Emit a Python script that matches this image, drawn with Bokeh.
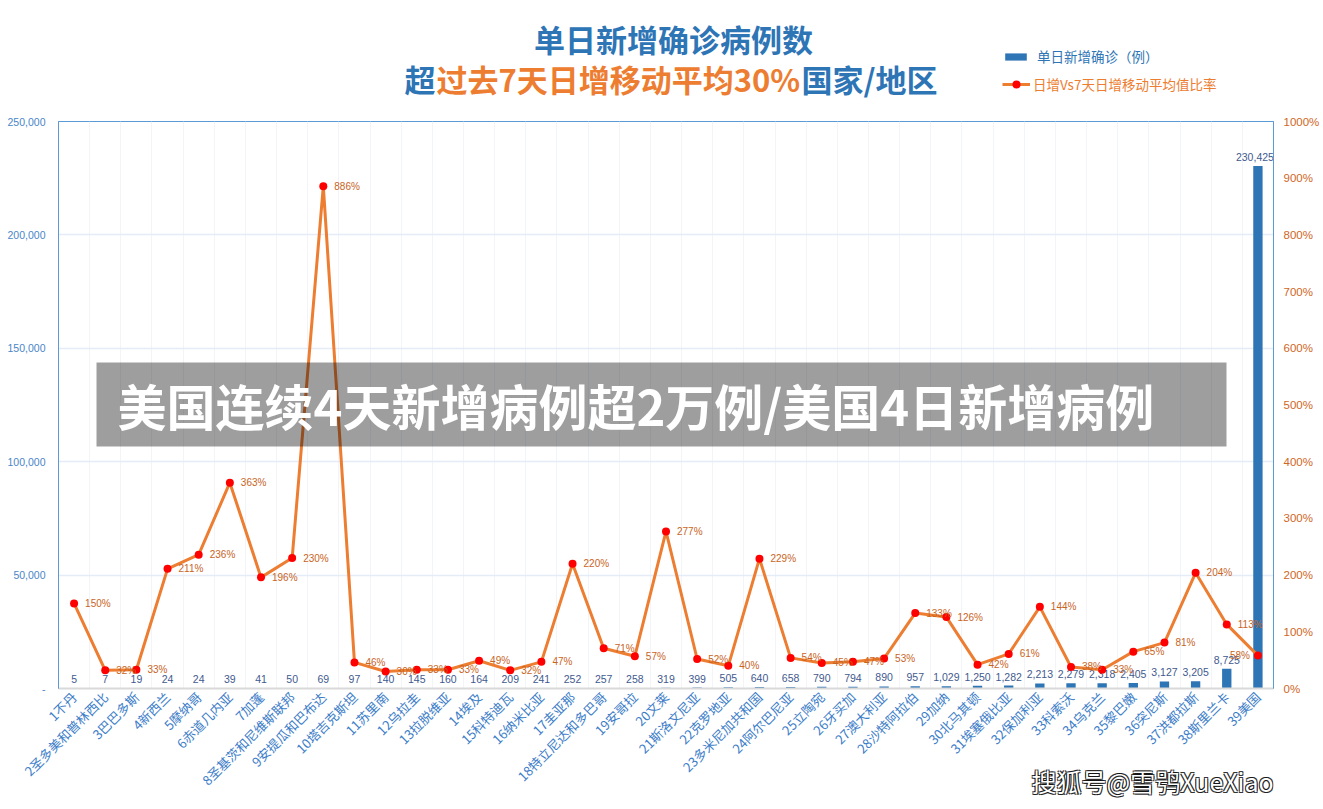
from bokeh.plotting import figure
from bokeh.layouts import column
from bokeh.models import (Range1d, LinearAxis, FixedTicker, PrintfTickFormatter,
                          NumeralTickFormatter, ColumnDataSource, Label, BoxAnnotation,
                          Legend, LegendItem)
from bokeh.core.properties import value
from bokeh.embed import file_html
from bokeh.resources import INLINE
from math import pi

countries = ["1不丹", "2圣多美和普林西比", "3巴巴多斯", "4新西兰", "5摩纳哥", "6赤道几内亚",
             "7加蓬", "8圣基茨和尼维斯联邦", "9安提瓜和巴布达", "10塔吉克斯坦", "11苏里南",
             "12乌拉圭", "13拉脱维亚", "14埃及", "15科特迪瓦", "16纳米比亚", "17圭亚那",
             "18特立尼达和多巴哥", "19安哥拉", "20文莱", "21斯洛文尼亚", "22克罗地亚",
             "23多米尼加共和国", "24阿尔巴尼亚", "25立陶宛", "26牙买加", "27澳大利亚",
             "28沙特阿拉伯", "29加纳", "30北马其顿", "31埃塞俄比亚", "32保加利亚", "33科索沃",
             "34乌克兰", "35黎巴嫩", "36突尼斯", "37洪都拉斯", "38斯里兰卡", "39美国"]
daily_new = [5, 7, 19, 24, 24, 39, 41, 50, 69, 97, 140, 145, 160, 164, 209, 241, 252, 257,
             258, 319, 399, 505, 640, 658, 790, 794, 890, 957, 1029, 1250, 1282, 2213, 2279,
             2318, 2405, 3127, 3205, 8725, 230425]
ratio_pct = [150, 32, 33, 211, 236, 363, 196, 230, 886, 46, 30, 33, 33, 49, 32, 47, 220, 71,
             57, 277, 52, 40, 229, 54, 45, 47, 53, 133, 126, 42, 61, 144, 38, 33, 65, 81, 204,
             113, 58]
left_ticks = [0, 50000, 100000, 150000, 200000, 250000]
right_ticks = [0, 100, 200, 300, 400, 500, 600, 700, 800, 900, 1000]

title_line1 = "单日新增确诊病例数"
title_line2 = [("超", "#2E75B6"), ("过去7天日增移动平均30%", "#ED7D31"), ("国家/地区", "#2E75B6")]
legend_bar = "单日新增确诊（例）"
legend_line = "日增Vs7天日增移动平均值比率"
banner_text = "美国连续4天新增病例超2万例/美国4日新增病例"
watermark = "搜狐号@雪鸮XueXiao"

BLUE = "#2E75B6"
ORANGE = "#ED7D31"
CJK = "Noto Sans CJK SC"

n = len(countries)
xs = list(range(1, n + 1))
new_txt = [f"{v:,}" for v in daily_new]
pct_txt = [f"{r}%" for r in ratio_pct]
src = ColumnDataSource(dict(x=xs, new=daily_new, pct=ratio_pct))
src_head = ColumnDataSource(dict(x=xs[:-1], new=daily_new[:-1], pct=ratio_pct[:-1],
                                 new_txt=new_txt[:-1], pct_txt=pct_txt[:-1]))
src_tail = ColumnDataSource(dict(x=xs[-1:], new=daily_new[-1:], pct=ratio_pct[-1:],
                                 new_txt=new_txt[-1:], pct_txt=pct_txt[-1:]))

W, H = 1323, 809
HDR_H = 111
FL, FR, FT, FB = 58, 1273, 121, 688  # main frame edges in page px

# ---------------- header (title + legend) ----------------
# (frames in a column share the main chart's left/right borders)
hdr = figure(width=W, height=HDR_H, x_range=Range1d(-3, -2), y_range=Range1d(-3, -2),
             min_border=0, min_border_left=FL, min_border_right=W - FR,
             x_axis_location=None, y_axis_location=None,
             output_backend="svg", toolbar_location=None, outline_line_color=None,
             background_fill_color="white", border_fill_color="white")
hdr.xgrid.visible = False
hdr.ygrid.visible = False

def hx(x):
    return x - FL

def hy(y):
    return HDR_H - y

hdr.add_layout(Label(x=hx(673), y=hy(38), x_units="screen", y_units="screen", text=title_line1,
                     text_align="center", text_baseline="middle", text_font=CJK,
                     text_font_style="bold", text_font_size="31px", text_color=BLUE))
seg_x = [404, 436, 801]
for (t, c), x0 in zip(title_line2, seg_x):
    hdr.add_layout(Label(x=hx(x0), y=hy(78), x_units="screen", y_units="screen", text=t,
                         text_align="left", text_baseline="middle", text_font=CJK,
                         text_font_style="bold", text_font_size="31px", text_color=c))

# legend swatches: hidden copies of the series, used only for their legend glyphs
leg_bar_r = hdr.vbar(x="x", top="new", width=0.3, source=src, fill_color=BLUE,
                     line_color=None, visible=False)
leg_line_r = hdr.line(x="x", y="pct", source=src, line_color=ORANGE, line_width=3,
                      visible=False)
leg_dot_r = hdr.scatter(x="x", y="pct", source=src, marker="circle", size=8,
                        fill_color="#FF0000", line_color=None, visible=False)
leg_common = dict(padding=0, margin=0, label_height=9, border_line_alpha=0,
                  background_fill_alpha=0, inactive_fill_alpha=0, label_text_font=CJK,
                  label_text_font_size="13.5px")
leg1 = Legend(items=[LegendItem(label=legend_bar, renderers=[leg_bar_r])],
              location=(hx(1002), hy(66)), glyph_width=27, glyph_height=9, label_standoff=8,
              label_text_color=BLUE, **leg_common)
leg2 = Legend(items=[LegendItem(label=legend_line, renderers=[leg_line_r, leg_dot_r])],
              location=(hx(1002), hy(94)), glyph_width=28, glyph_height=20, label_standoff=3,
              label_text_color=ORANGE, **leg_common)
hdr.add_layout(leg1)
hdr.add_layout(leg2)

# ---------------- main chart ----------------
p = figure(width=W, height=H - HDR_H, x_range=Range1d(0.5, n + 0.5),
           y_range=Range1d(0, left_ticks[-1]),
           min_border_left=FL, min_border_right=W - FR, min_border_top=FT - HDR_H,
           min_border_bottom=H - FB, output_backend="svg", toolbar_location=None,
           background_fill_color="white", border_fill_color="white")
p.extra_y_ranges = {"pct": Range1d(0, right_ticks[-1])}
p.outline_line_color = "#5B9BD5"
p.outline_line_width = 1

p.ygrid.ticker = FixedTicker(ticks=left_ticks)
p.ygrid.grid_line_color = "#E3ECF7"
p.ygrid.grid_line_width = 1.5
p.xgrid.ticker = FixedTicker(ticks=[i + 0.5 for i in range(n + 1)])
p.xgrid.grid_line_color = "#F2F4F8"
p.xgrid.grid_line_width = 1

ya = p.yaxis[0]
ya.ticker = FixedTicker(ticks=left_ticks)
ya.formatter = NumeralTickFormatter(format="0,0")
ya.major_label_overrides = {0: "-"}
ya.axis_line_color = "#5B9BD5"
ya.major_tick_line_color = None
ya.minor_tick_line_color = None
ya.major_tick_out = 0
ya.major_tick_in = 0
ya.minor_tick_out = 0
ya.major_label_text_color = "#4A86C8"
ya.major_label_text_font = "Liberation Sans"
ya.major_label_text_font_size = "10.5px"
ya.major_label_standoff = 13

ra = LinearAxis(y_range_name="pct", ticker=FixedTicker(ticks=right_ticks),
                formatter=PrintfTickFormatter(format="%d%%"))
ra.axis_line_color = "#5B9BD5"
ra.major_tick_line_color = None
ra.minor_tick_line_color = None
ra.major_tick_out = 0
ra.major_tick_in = 0
ra.minor_tick_out = 0
ra.major_label_text_color = "#D0661E"
ra.major_label_text_font = "Liberation Sans"
ra.major_label_text_font_size = "11.5px"
ra.major_label_standoff = 10
p.add_layout(ra, "right")

xa = p.xaxis[0]
xa.ticker = FixedTicker(ticks=xs)
xa.major_label_overrides = {x: c for x, c in zip(xs, countries)}
xa.major_label_orientation = pi / 4
xa.axis_line_color = "#D9D9D9"
xa.axis_line_width = 2
xa.major_tick_line_color = None
xa.minor_tick_line_color = None
xa.major_tick_out = 0
xa.major_tick_in = 0
xa.minor_tick_out = 0
xa.major_label_text_color = "#3C7DC8"
xa.major_label_text_font = CJK
xa.major_label_text_font_size = "13px"
xa.major_label_standoff = 6

bars = p.vbar(x="x", top="new", width=0.3, source=src, fill_color=BLUE, line_color=None)
bar_lbl = dict(text_align="center", text_baseline="bottom", y_offset=-5,
               text_font=value("Liberation Sans"), text_font_size="10.5px",
               text_color="#3F5A8E")
p.text(x="x", y="new", text="new_txt", source=src_head, **bar_lbl)
p.text(x="x", y="new", text="new_txt", source=src_tail, x_offset=-3, **bar_lbl)

line_r = p.line(x="x", y="pct", source=src, y_range_name="pct", line_color=ORANGE,
                line_width=3)
dots = p.scatter(x="x", y="pct", source=src, y_range_name="pct", marker="circle", size=8,
                 fill_color="#FF0000", line_color=None)
pct_lbl = dict(text_baseline="middle", text_font=value("Liberation Sans"),
               text_font_size="10px", text_color="#C8641E")
p.text(x="x", y="pct", text="pct_txt", source=src_head, y_range_name="pct",
       text_align="left", x_offset=11, **pct_lbl)
p.text(x="x", y="pct", text="pct_txt", source=src_tail, y_range_name="pct",
       text_align="right", x_offset=-8, **pct_lbl)

def sx(x):
    return x - FL

def sy(y):
    return FB - y

p.add_layout(BoxAnnotation(left=sx(96), right=sx(1226), top=sy(362), bottom=sy(446),
                           left_units="screen", right_units="screen", top_units="screen",
                           bottom_units="screen", fill_color="black", fill_alpha=0.38,
                           line_color=None))
p.add_layout(Label(x=sx(117), y=sy(404), x_units="screen", y_units="screen", text=banner_text,
                   text_align="left", text_baseline="middle", text_font=CJK,
                   text_font_style="bold", text_font_size="49px", text_color="white"))

# ---------------- watermark overlay (transparent figure pulled up over the corner) -------
WM_FL = 1030                     # frame left of overlay in page px
WM_X0 = WM_FL - FL               # overlay canvas left (its left border equals FL)
WM_T, WM_H = 760, 44
wm = figure(width=W - WM_X0, height=WM_H, x_range=Range1d(-3, -2), y_range=Range1d(-3, -2),
            min_border=0, min_border_left=FL, min_border_right=W - FR,
            x_axis_location=None, y_axis_location=None,
            output_backend="svg", toolbar_location=None, outline_line_color=None,
            background_fill_color=None, border_fill_color=None,
            margin=(WM_T - H, 0, 0, WM_X0))
wm.xgrid.visible = False
wm.ygrid.visible = False
for dx, dy, col, a in [(-1, -1, "#111111", 0.85), (1, 1, "#111111", 0.85),
                       (-1, 1, "#111111", 0.85), (1, -1, "#111111", 0.85),
                       (0, 0, "white", 1.0)]:
    wm.add_layout(Label(x=1031 - WM_FL + dx, y=(WM_T + WM_H) - 780 - dy, x_units="screen",
                        y_units="screen", text=watermark, text_align="left",
                        text_baseline="middle", text_font=CJK, text_font_size="25px",
                        text_color=col, text_alpha=a))

layout = column(hdr, p, wm, spacing=0)
open("out.html", "w").write(file_html(layout, INLINE))
